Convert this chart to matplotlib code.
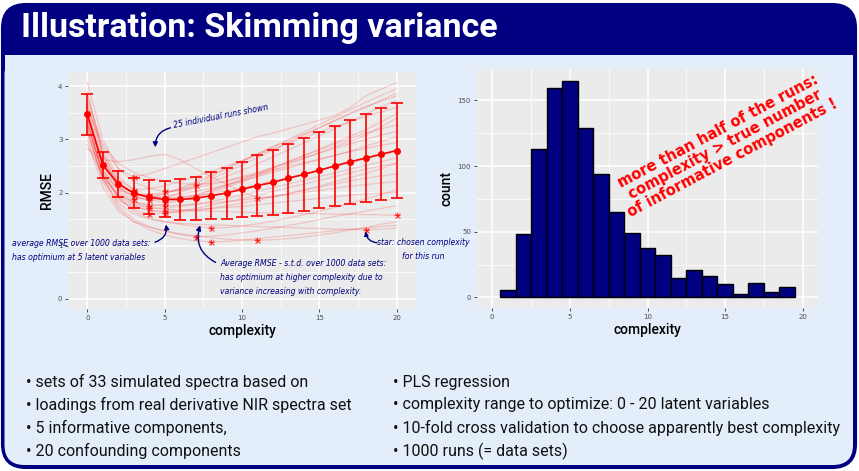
import matplotlib
matplotlib.use("Agg")
import matplotlib.pyplot as plt
import numpy as np
from matplotlib.patches import FancyBboxPatch, Rectangle
from matplotlib.transforms import IdentityTransform

# ---- data -------------------------------------------------------------
complexity = np.arange(21)

# mean RMSE over 1000 data sets and its standard deviation
rmse_mean = [3.47, 2.52, 2.16, 1.99, 1.91, 1.87, 1.87, 1.89, 1.94, 1.99, 2.06,
             2.13, 2.19, 2.27, 2.34, 2.42, 2.50, 2.58, 2.65, 2.72, 2.79]
rmse_sd = [0.38, 0.25, 0.25, 0.29, 0.32, 0.34, 0.38, 0.40, 0.44, 0.48, 0.52,
           0.57, 0.61, 0.65, 0.68, 0.72, 0.76, 0.79, 0.83, 0.87, 0.90]

# 25 individual runs (RMSE vs. complexity)
runs_rmse = [
    [4.07, 3.00, 2.45, 2.29, 2.35, 2.45, 2.55, 2.65, 2.75, 2.85, 2.95, 3.05, 3.12, 3.20, 3.28, 3.36, 3.45, 3.60, 3.82, 3.95, 4.07],
    [3.90, 2.70, 2.10, 1.87, 1.90, 1.98, 2.08, 2.20, 2.33, 2.46, 2.60, 2.73, 2.86, 2.98, 3.10, 3.22, 3.35, 3.48, 3.60, 3.74, 3.87],
    [3.70, 2.75, 2.20, 1.95, 1.85, 1.90, 2.00, 2.12, 2.25, 2.38, 2.52, 2.66, 2.80, 2.94, 3.08, 3.22, 3.36, 3.50, 3.62, 3.72, 3.82],
    [3.50, 2.50, 2.05, 1.82, 1.75, 1.78, 1.85, 1.94, 2.04, 2.14, 2.25, 2.36, 2.47, 2.58, 2.69, 2.80, 2.91, 3.02, 3.12, 3.20, 3.27],
    [3.30, 2.35, 1.90, 1.68, 1.59, 1.61, 1.65, 1.70, 1.76, 1.82, 1.88, 1.95, 2.02, 2.09, 2.16, 2.23, 2.30, 2.37, 2.44, 2.50, 2.55],
    [3.60, 2.85, 2.45, 2.20, 2.08, 2.02, 2.05, 2.12, 2.20, 2.30, 2.42, 2.54, 2.67, 2.80, 2.93, 3.06, 3.20, 3.34, 3.48, 3.62, 3.73],
    [3.20, 2.30, 1.92, 1.74, 1.66, 1.62, 1.63, 1.66, 1.70, 1.75, 1.80, 1.86, 1.92, 1.98, 2.04, 2.10, 2.16, 2.22, 2.27, 2.31, 2.35],
    [3.55, 2.60, 2.18, 1.98, 1.90, 1.88, 1.90, 1.96, 2.04, 2.13, 2.23, 2.34, 2.46, 2.58, 2.70, 2.82, 2.94, 3.06, 3.18, 3.33, 3.49],
    [3.75, 2.90, 2.55, 2.38, 2.28, 2.22, 2.17, 2.15, 2.17, 2.22, 2.30, 2.38, 2.47, 2.56, 2.65, 2.74, 2.83, 2.92, 3.00, 3.08, 3.15],
    [3.40, 2.30, 1.75, 1.50, 1.35, 1.27, 1.21, 1.17, 1.18, 1.20, 1.24, 1.28, 1.33, 1.38, 1.43, 1.49, 1.55, 1.60, 1.65, 1.70, 1.75],
    [3.30, 2.40, 1.90, 1.65, 1.52, 1.45, 1.40, 1.36, 1.33, 1.34, 1.37, 1.41, 1.46, 1.52, 1.58, 1.65, 1.72, 1.80, 1.88, 1.96, 2.05],
    [3.20, 2.20, 1.70, 1.45, 1.30, 1.20, 1.13, 1.09, 1.07, 1.08, 1.10, 1.13, 1.16, 1.19, 1.22, 1.25, 1.28, 1.31, 1.33, 1.36, 1.38],
    [2.82, 2.62, 2.58, 2.62, 2.68, 2.72, 2.62, 2.45, 2.30, 2.15, 2.02, 1.90, 1.92, 1.98, 2.05, 2.12, 2.20, 2.28, 2.36, 2.45, 2.55],
    [3.00, 2.10, 1.65, 1.45, 1.35, 1.28, 1.22, 1.18, 1.15, 1.12, 1.11, 1.10, 1.11, 1.13, 1.16, 1.20, 1.24, 1.29, 1.34, 1.40, 1.45],
    [3.10, 2.25, 1.80, 1.60, 1.50, 1.45, 1.42, 1.40, 1.39, 1.38, 1.37, 1.36, 1.35, 1.34, 1.33, 1.32, 1.31, 1.305, 1.30, 1.31, 1.33],
    [3.35, 2.45, 2.00, 1.80, 1.72, 1.69, 1.67, 1.66, 1.65, 1.64, 1.63, 1.62, 1.615, 1.61, 1.605, 1.60, 1.595, 1.59, 1.585, 1.58, 1.57],
    [3.85, 2.80, 2.30, 2.05, 1.95, 1.98, 2.06, 2.17, 2.30, 2.44, 2.58, 2.72, 2.86, 3.00, 3.14, 3.28, 3.42, 3.56, 3.70, 3.83, 3.95],
    [3.65, 2.70, 2.25, 2.05, 2.07, 2.13, 2.21, 2.30, 2.40, 2.50, 2.60, 2.71, 2.82, 2.93, 3.04, 3.14, 3.24, 3.34, 3.43, 3.52, 3.60],
    [3.45, 2.55, 2.10, 1.92, 1.85, 1.83, 1.86, 1.92, 2.00, 2.10, 2.20, 2.31, 2.42, 2.53, 2.64, 2.75, 2.86, 2.97, 3.08, 3.24, 3.40],
    [3.40, 2.60, 2.20, 2.00, 1.92, 1.93, 1.97, 2.02, 2.08, 2.15, 2.22, 2.30, 2.38, 2.46, 2.54, 2.62, 2.70, 2.78, 2.87, 2.96, 3.05],
    [3.25, 2.40, 2.05, 1.95, 1.97, 2.00, 2.04, 2.09, 2.15, 2.21, 2.28, 2.35, 2.42, 2.49, 2.56, 2.63, 2.70, 2.77, 2.83, 2.89, 2.94],
    [3.55, 2.55, 2.10, 1.95, 1.92, 1.90, 1.91, 1.94, 1.98, 2.03, 2.09, 2.15, 2.21, 2.28, 2.35, 2.42, 2.49, 2.56, 2.63, 2.72, 2.80],
    [3.30, 2.35, 1.95, 1.77, 1.70, 1.71, 1.74, 1.78, 1.83, 1.89, 1.95, 2.02, 2.09, 2.16, 2.23, 2.30, 2.37, 2.44, 2.51, 2.58, 2.65],
    [2.90, 2.30, 1.95, 1.82, 1.77, 1.75, 1.76, 1.78, 1.80, 1.83, 1.86, 1.89, 1.92, 1.96, 2.00, 2.04, 2.08, 2.12, 2.15, 2.18, 2.20],
    [3.15, 2.25, 1.85, 1.72, 1.67, 1.65, 1.66, 1.68, 1.70, 1.72, 1.74, 1.77, 1.80, 1.83, 1.86, 1.89, 1.92, 1.95, 1.97, 1.99, 2.00],
]

# histogram of chosen complexity over 1000 runs
hist_complexity = np.arange(1, 20)
hist_count = [6, 48, 113, 159, 165, 129, 94, 65, 49, 38, 32, 15, 21, 16, 10, 3, 11, 4, 8]

title = "Illustration: Skimming variance"
bullets_left = ["sets of 33 simulated spectra based on",
                "loadings from real derivative NIR spectra set",
                "5 informative components,",
                "20 confounding components"]
bullets_right = ["PLS regression",
                 "complexity range to optimize: 0 - 20 latent variables",
                 "10-fold cross validation to choose apparently best complexity",
                 "1000 runs (= data sets)"]

# ---- slide frame ------------------------------------------------------
W, H = 859, 471
navy = "#000080"
fig = plt.figure(figsize=(W / 100, H / 100), dpi=100, facecolor="white")
pix = IdentityTransform()

def py(y):
    # pixel from top -> display coords
    return H - y

fig.patches.append(FancyBboxPatch((2, py(468)), 854, 464,
                                  boxstyle="round,pad=0,rounding_size=24",
                                  fc=navy, ec=navy, lw=1.5, transform=pix,
                                  zorder=-10))
fig.patches.append(FancyBboxPatch((4.5, py(465)), 848.5, 410,
                                  boxstyle="round,pad=0,rounding_size=20",
                                  fc="#E4EEFB", ec="none", transform=pix,
                                  zorder=-9))
fig.patches.append(Rectangle((4.5, py(100)), 848.5, 45, fc="#E4EEFB",
                             ec="none", transform=pix, zorder=-9))
fig.text(21 / W, 1 - 28 / H, title, color="white", fontsize=24.5,
         fontweight="bold", family="Roboto", va="center", ha="left")

for i, (l, r) in enumerate(zip(bullets_left, bullets_right)):
    yb = 1 - (382 + i * 23) / H
    fig.text(26 / W, yb, "\u2022 " + l, fontsize=11.5, family="Roboto",
             color="#111111", va="center")
    fig.text(393 / W, yb, "\u2022 " + r, fontsize=11.5, family="Roboto",
             color="#111111", va="center")

# ---- ggplot-like axes style --------------------------------------------
def gg_style(ax, xmaj, xmin, ymaj, ymin):
    ax.set_facecolor("#EBEBEB")
    for s in ax.spines.values():
        s.set_visible(False)
    ax.set_xticks(xmaj)
    ax.set_xticks(xmin, minor=True)
    ax.set_yticks(ymaj)
    ax.set_yticks(ymin, minor=True)
    ax.grid(which="major", color="white", lw=1.1)
    ax.grid(which="minor", color="white", lw=0.55)
    ax.set_axisbelow(True)
    ax.tick_params(which="major", length=2.2, width=0.6, color="#333333",
                   labelsize=5, labelcolor="#4D4D4D", pad=2)
    ax.tick_params(which="minor", length=0)

hand = dict(family="DejaVu Sans", style="italic", color=navy, fontsize=5.6)
lab = dict(fontsize=10, family="Roboto", fontweight="medium", color="black")

# ---- left: RMSE curves -------------------------------------------------
ax1 = fig.add_axes([68.3 / W, 1 - 309.3 / H, 347.7 / W, 237.3 / H])
gg_style(ax1, [0, 5, 10, 15, 20], [2.5, 7.5, 12.5, 17.5],
         [0, 1, 2, 3, 4], [0.5, 1.5, 2.5, 3.5])
for run in runs_rmse:
    ax1.plot(complexity, run, color="red", alpha=0.17, lw=0.9)
# star (ggplot shape 8) at the chosen complexity of each run
opt_x = [int(np.argmin(run)) for run in runs_rmse]
opt_y = [min(run) for run in runs_rmse]
for m, s in (("+", 5), ("x", 3.6)):
    ax1.plot(opt_x, opt_y, marker=m, color="red", alpha=0.7, ms=s,
             mew=0.8, ls="none")
ax1.errorbar(complexity, rmse_mean, yerr=rmse_sd, color="red", lw=1.2,
             capsize=4.6, capthick=1.2, marker="o", ms=4, elinewidth=1.2)
ax1.set_xlim(-1.23, 21.25)
ax1.set_ylim(-0.2, 4.27)
ax1.set_xlabel("complexity", labelpad=2, **lab)
ax1.set_ylabel("RMSE", labelpad=3, **lab)

ax1.text(8.6, 3.44, "25 individual runs shown", rotation=11, ha="center",
         va="center", **hand)
ax1.annotate("", xy=(4.4, 2.8), xytext=(5.55, 3.23),
             arrowprops=dict(arrowstyle="-|>", color=navy, lw=1.0,
                             mutation_scale=7,
                             connectionstyle="arc3,rad=0.45"))
ax1.text(-4.85, 0.91, "average RMSE over 1000 data sets:\nhas optimium at 5 latent variables",
         ha="left", va="center", linespacing=1.7, clip_on=False, **hand)
ax1.annotate("", xy=(5.05, 1.45), xytext=(4.2, 1.05),
             arrowprops=dict(arrowstyle="-|>", color=navy, lw=1.0,
                             mutation_scale=7,
                             connectionstyle="arc3,rad=0.5"))
ax1.text(8.6, 0.4, "Average RMSE - s.t.d. over 1000 data sets:\nhas optimium at higher complexity due to\nvariance increasing with complexity.",
         ha="left", va="center", linespacing=1.7, **hand)
ax1.annotate("", xy=(7.35, 1.43), xytext=(8.45, 0.66),
             arrowprops=dict(arrowstyle="-|>", color=navy, lw=1.0,
                             mutation_scale=7,
                             connectionstyle="arc3,rad=-0.45"))
ax1.text(21.75, 0.93, "star: chosen complexity\nfor this run", ha="center",
         va="center", linespacing=1.7, clip_on=False, **hand)
ax1.annotate("", xy=(18.0, 1.32), xytext=(18.9, 1.05),
             arrowprops=dict(arrowstyle="-|>", color=navy, lw=1.0,
                             mutation_scale=6,
                             connectionstyle="arc3,rad=-0.5"))

# ---- right: histogram --------------------------------------------------
ax2 = fig.add_axes([476.7 / W, 1 - 308.3 / H, 341.6 / W, 239 / H])
gg_style(ax2, [0, 5, 10, 15, 20], [2.5, 7.5, 12.5, 17.5],
         [0, 50, 100, 150], [25, 75, 125])
ax2.bar(hist_complexity, hist_count, width=1.0, color=navy,
        edgecolor="black", lw=1.0)
ax2.set_xlim(-1, 21)
ax2.set_ylim(-8.25, 173.6)
ax2.set_xlabel("complexity", labelpad=2, **lab)
ax2.set_ylabel("count", labelpad=3, **lab)
ax2.text(15.0, 116, "more than half of the runs:\ncomplexity > true number\nof informative components !",
         rotation=28, ha="center", va="center", multialignment="center",
         rotation_mode="anchor", color="red", fontsize=10.5,
         fontweight="bold", family="DejaVu Sans", linespacing=1.0)

fig.savefig("out.png", dpi=100, facecolor="white")
